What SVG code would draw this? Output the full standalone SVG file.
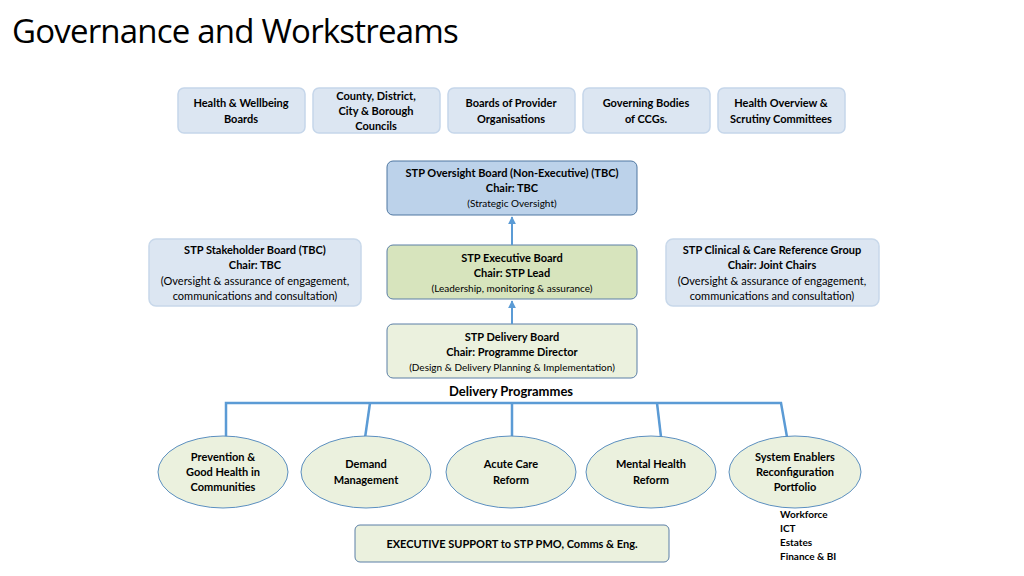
<svg xmlns="http://www.w3.org/2000/svg" width="1024" height="576" viewBox="0 0 1024 576">
<defs>
<marker id="ar" viewBox="0 0 10 10" refX="9" refY="5" markerWidth="4" markerHeight="4" orient="auto"><path d="M0,0L10,5L0,10z" fill="#5b9bd5"/></marker>
<style>
text{font-family:Lato,"Open Sans",sans-serif;font-size:11px;fill:#000;text-anchor:middle}
.b{font-weight:bold}
.s{font-size:10px}
.top{fill:#dce6f2;stroke:#c5d6ea;stroke-width:1.5}
.ov{fill:#bcd2ea;stroke:#4f77a1;stroke-width:1}
.ex{fill:#d7e4bd;stroke:#5b7fa6;stroke-width:1}
.side{fill:#dce6f2;stroke:#c8d8ea;stroke-width:1.5}
.dl{fill:#ebf1de;stroke:#5b7fa6;stroke-width:1}
.el{fill:#ebf1de;stroke:#5b8fc0;stroke-width:1}
.c{stroke:#5b9bd5;stroke-width:2.5;fill:none}
</style>
</defs>
<rect width="1024" height="576" fill="#fff"/>
<text x="12" y="43" style="font-size:33px;text-anchor:start;font-family:'Open Sans',sans-serif;letter-spacing:-0.8px">Governance and Workstreams</text>
<g id="hwb"><rect class="top" x="178" y="88" width="127" height="45" rx="6"/><text class="b" x="241" y="107">Health &amp; Wellbeing</text><text class="b" x="241" y="123">Boards</text></g>
<g id="councils"><rect class="top" x="313" y="88" width="127" height="45" rx="6"/><text class="b" x="376" y="100">County, District,</text><text class="b" x="376" y="115">City &amp; Borough</text><text class="b" x="376" y="130">Councils</text></g>
<g id="provider"><rect class="top" x="448" y="88" width="127" height="45" rx="6" stroke="#b0c6de"/><text class="b" x="511" y="107">Boards of Provider</text><text class="b" x="511" y="123">Organisations</text></g>
<g id="ccg"><rect class="top" x="583" y="88" width="127" height="45" rx="6"/><text class="b" x="646" y="107">Governing Bodies</text><text class="b" x="646" y="123">of CCGs.</text></g>
<g id="hosc"><rect class="top" x="718" y="88" width="127" height="45" rx="6"/><text class="b" x="781" y="107">Health Overview &amp;</text><text class="b" x="781" y="123">Scrutiny Committees</text></g>
<g id="oversight"><rect class="ov" x="387" y="161" width="250" height="54" rx="6"/><text class="b" x="512" y="177">STP Oversight Board (Non-Executive) (TBC)</text><text class="b" x="512" y="192">Chair: TBC</text><text class="s" x="512" y="207">(Strategic Oversight)</text></g>
<g id="executive"><rect class="ex" x="387" y="245" width="250" height="54" rx="6"/><text class="b" x="512" y="262">STP Executive Board</text><text class="b" x="512" y="277">Chair: STP Lead</text><text class="s" x="512" y="292">(Leadership, monitoring &amp; assurance)</text></g>
<g id="stakeholder"><rect class="side" x="149" y="239" width="212" height="67" rx="7"/><text class="b" x="255" y="254">STP Stakeholder Board (TBC)</text><text class="b" x="255" y="269">Chair: TBC</text><text x="255" y="285">(Oversight &amp; assurance of engagement,</text><text x="255" y="300">communications and consultation)</text></g>
<g id="clinical"><rect class="side" x="666" y="239" width="213" height="67" rx="7"/><text class="b" x="772" y="254">STP Clinical &amp; Care Reference Group</text><text class="b" x="772" y="269">Chair: Joint Chairs</text><text x="772" y="285">(Oversight &amp; assurance of engagement,</text><text x="772" y="300">communications and consultation)</text></g>
<g id="delivery"><rect class="dl" x="387" y="324" width="250" height="54" rx="6"/><text class="b" x="512" y="341">STP Delivery Board</text><text class="b" x="512" y="356">Chair: Programme Director</text><text class="s" x="512" y="371">(Design &amp; Delivery  Planning &amp; Implementation)</text></g>
<text class="b" x="511" y="396" style="font-size:13px">Delivery Programmes</text>
<g id="connectors">
<line class="c" x1="512" y1="245" x2="512" y2="217" marker-end="url(#ar)" style="stroke-width:2"/>
<line class="c" x1="512" y1="324" x2="512" y2="301" marker-end="url(#ar)" style="stroke-width:2"/>
<polyline class="c" points="226,438 226,403 781,403 787,437"/>
<line class="c" x1="370" y1="403" x2="365" y2="438"/>
<line class="c" x1="512" y1="403" x2="512" y2="438"/>
<line class="c" x1="657" y1="403" x2="661" y2="437"/>
</g>
<g id="prevention"><ellipse class="el" cx="223" cy="472" rx="65" ry="36"/><text class="b" x="223" y="461">Prevention &amp;</text><text class="b" x="223" y="476">Good Health in</text><text class="b" x="223" y="491">Communities</text></g>
<g id="demand"><ellipse class="el" cx="366" cy="472" rx="65" ry="36"/><text class="b" x="366" y="468">Demand</text><text class="b" x="366" y="484">Management</text></g>
<g id="acute"><ellipse class="el" cx="511" cy="472" rx="65" ry="36"/><text class="b" x="511" y="468">Acute Care</text><text class="b" x="511" y="484">Reform</text></g>
<g id="mental"><ellipse class="el" cx="651" cy="472" rx="65" ry="36"/><text class="b" x="651" y="468">Mental Health</text><text class="b" x="651" y="484">Reform</text></g>
<g id="enablers"><ellipse class="el" cx="795" cy="472" rx="66" ry="36"/><text class="b" x="795" y="461">System Enablers</text><text class="b" x="795" y="476">Reconfiguration</text><text class="b" x="795" y="491">Portfolio</text></g>
<g id="enablerlist"><text class="b s" x="780" y="518" style="text-anchor:start">Workforce</text><text class="b s" x="780" y="532" style="text-anchor:start">ICT</text><text class="b s" x="780" y="546" style="text-anchor:start">Estates</text><text class="b s" x="780" y="560" style="text-anchor:start">Finance &amp; BI</text></g>
<g id="support"><rect class="dl" x="355" y="525" width="314" height="37" rx="5" stroke="#7a9cc0"/><text class="b" x="512" y="548">EXECUTIVE SUPPORT to STP PMO, Comms &amp; Eng.</text></g>
</svg>
